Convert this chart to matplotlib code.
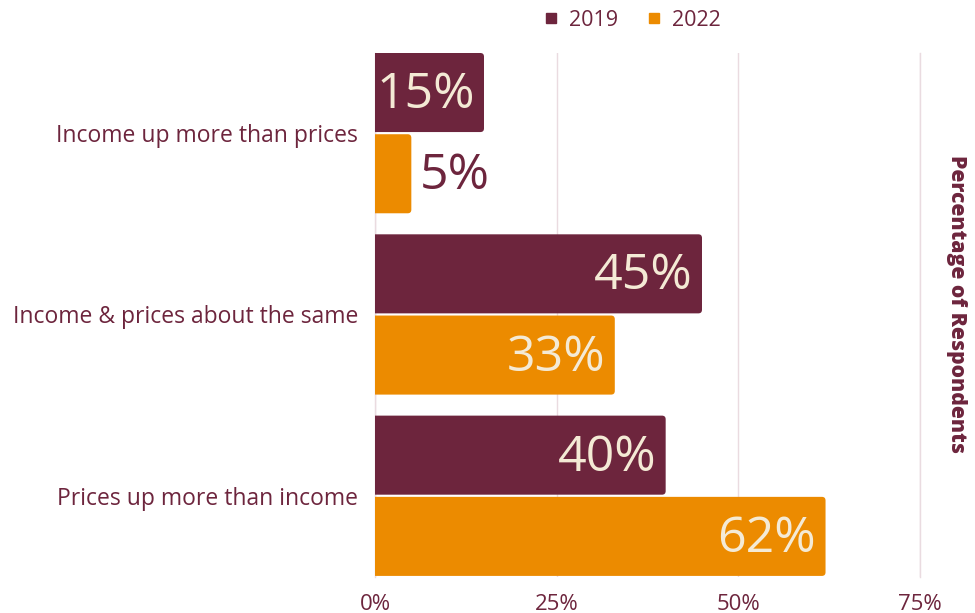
import matplotlib
matplotlib.use("Agg")
import matplotlib.pyplot as plt
from matplotlib.patches import FancyBboxPatch
from matplotlib.lines import Line2D
import numpy as np

plt.rcParams['font.family'] = ['Open Sans', 'DejaVu Sans']

categories = ["Income up more than prices",
              "Income & prices about the same",
              "Prices up more than income"]
series_names = ["2019", "2022"]
values_2019 = [15, 45, 40]
values_2022 = [5, 33, 62]
tick_values = [0, 25, 50, 75]
tick_labels = ["0%", "25%", "50%", "75%"]

MAROON = "#6d253d"
ORANGE = "#ec8b00"
CREAM = "#f4ead5"
GRID = "#eadbe0"

fig = plt.figure(figsize=(9.75, 6.13), dpi=100)
ax = fig.add_axes([375/975, 1 - 577/613, 545/975, 524/613])

y = np.arange(len(categories))
h = 0.436
off = 0.224

bars_a = ax.barh(y - off, values_2019, height=h, color=MAROON)
bars_b = ax.barh(y + off, values_2022, height=h, color=ORANGE)

# Swap the plain rectangles for ones with rounded right ends
rx = 0.5
aspect = 0.04
for bars in (bars_a, bars_b):
    for p in bars:
        x0, y0 = p.get_x(), p.get_y()
        w, hh = p.get_width(), p.get_height()
        fc = p.get_facecolor()
        p.set_visible(False)
        rb = FancyBboxPatch((x0 - 2, y0), w + 2, hh,
                            boxstyle=f"round,pad=0,rounding_size={rx}",
                            mutation_aspect=aspect, fc=fc, ec="none",
                            zorder=2)
        ax.add_patch(rb)

# Value labels: inside the bar when there is room, outside otherwise
text_shift = 0.015
for vals, dy in ((values_2019, -off), (values_2022, off)):
    for i, v in enumerate(vals):
        if v >= 10:
            ax.text(v - 1.3, i + dy + text_shift, f"{v}%", ha="right",
                    va="center", color=CREAM, fontsize=36, zorder=3)
        else:
            ax.text(v + 1.1, i + dy + text_shift, f"{v}%", ha="left",
                    va="center", color=MAROON, fontsize=36, zorder=3)

ax.set_xlim(0, 75)
ax.set_ylim(2 + 0.448, -0.442)
ax.set_xticks(tick_values)
ax.set_xticklabels(tick_labels, color=MAROON, fontsize=16)
ax.set_yticks(y)
ax.set_yticklabels(categories, color=MAROON, fontsize=16.5)
ax.tick_params(axis="both", length=0)
ax.tick_params(axis="x", pad=12)
ax.tick_params(axis="y", pad=12)
ax.grid(axis="x", color=GRID, linewidth=1)
ax.set_axisbelow(True)
for s in ax.spines.values():
    s.set_visible(False)
for xv in (tick_values[0], tick_values[-1]):
    ax.axvline(xv, color=GRID, linewidth=1, zorder=1, clip_on=False)

fig.text(957/975, 1 - 304/613, "Percentage of Respondents", rotation=-90,
         ha="center", va="center", color=MAROON, fontsize=15.2,
         fontweight="heavy")

handles = [Line2D([], [], marker="s", linestyle="none", color=MAROON,
                  markersize=7.5),
           Line2D([], [], marker="s", linestyle="none", color=ORANGE,
                  markersize=7.5)]
leg = fig.legend(handles, series_names, loc="center",
                 bbox_to_anchor=(632/975, 1 - 20/613), ncol=2, frameon=False,
                 fontsize=15.5, handletextpad=0.5, columnspacing=1.3,
                 handlelength=0.7)
for t in leg.get_texts():
    t.set_color(MAROON)

fig.savefig("out.png", dpi=100, facecolor="white")
